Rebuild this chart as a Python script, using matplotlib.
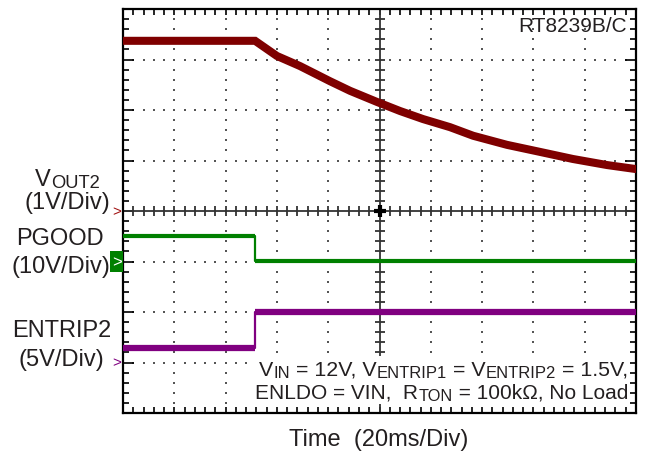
import numpy as np
import matplotlib.pyplot as plt
import matplotlib.transforms as mtransforms
from matplotlib.patches import Rectangle

plt.rcParams['font.family'] = ['Liberation Sans', 'DejaVu Sans']

#%% data read off the scope shot (time in ms, 20ms/Div)
vout_t = [0, 51.5, 60, 69, 80.7, 88.5, 99, 108, 117, 127.5, 136.5, 149.7, 162.6, 175.4, 188.7, 200]
vout_v = [3.37, 3.37, 3.07, 2.87, 2.57, 2.38, 2.16, 1.98, 1.82, 1.66, 1.49, 1.31, 1.17, 1.03, 0.91, 0.83]

pgood_t = [0, 51.3, 51.3, 200]
pgood_v = [5.0, 5.0, 0.1, 0.1]

entrip_t = [0, 51.3, 51.3, 200]
entrip_v = [1.4, 1.4, 5.0, 5.0]

# channel settings: V/Div and ground position (div)
ch_scale = {'vout': 1, 'pgood': 10, 'entrip': 5}
ch_ground = {'vout': 0, 'pgood': -1, 'entrip': -3}
ch_color = {'vout': '#7f0000', 'pgood': '#008000', 'entrip': '#800080'}

TXT = '#231f20'


def to_div(v, ch):
    return ch_ground[ch] + np.asarray(v) / ch_scale[ch]


#%%
fig = plt.figure(figsize=(6.48, 4.6), dpi=100)
W, H = 648, 460
ax = fig.add_axes([123 / W, 1 - 414 / H, 513 / W, 404 / H])
ax.set_xlim(0, 200)
ax.set_ylim(-4, 4)

# dotted graticule
xmaj = [x for x in np.arange(20, 200, 20) if x != 100]
ymaj = [-3, -2, -1, 1, 2, 3]
xmin = np.arange(0, 200.01, 4)
ymin = np.arange(-4, 4.001, 0.2)
gx, gy = np.meshgrid(xmaj, ymin)
ax.scatter(gx.ravel(), gy.ravel(), s=1.6, marker='s', color='#555555', lw=0, zorder=1)
gx, gy = np.meshgrid(xmin[1:-1], ymaj)
ax.scatter(gx.ravel(), gy.ravel(), s=1.6, marker='s', color='#555555', lw=0, zorder=1)

# center cross with ticks
ax.axhline(0, color='#333333', lw=1.3, zorder=2)
ax.axvline(100, color='#333333', lw=1.3, zorder=2)
ax.plot(xmin, np.zeros_like(xmin), ls='', marker='|', ms=7, mew=1.3, color='#333333', zorder=2)
ax.plot(np.full_like(ymin, 100), ymin, ls='', marker='_', ms=7, mew=1.3, color='#333333', zorder=2)
ax.plot([100], [0], marker='+', ms=9, mew=3, color='black', zorder=2)

# border ticks
ax.set_xticks(np.arange(0, 201, 20))
ax.set_xticks(xmin, minor=True)
ax.set_yticks(np.arange(-4, 5, 1))
ax.set_yticks(ymin, minor=True)
ax.tick_params(which='both', direction='in', top=True, right=True,
               labelbottom=False, labelleft=False, color='black', width=1.2)
ax.tick_params(axis='x', which='both', length=4)
ax.tick_params(axis='y', which='major', length=8)
ax.tick_params(axis='y', which='minor', length=4)
for s in ax.spines.values():
    s.set_linewidth(1.6)

# traces
ax.plot(vout_t, to_div(vout_v, 'vout'), color=ch_color['vout'], lw=5.8,
        solid_joinstyle='miter', zorder=4)
# thin edge for the step, thick for the flat parts
ax.plot(pgood_t, to_div(pgood_v, 'pgood'), color=ch_color['pgood'], lw=1.6, zorder=4)
ax.plot(pgood_t[:2], to_div(pgood_v[:2], 'pgood'), color=ch_color['pgood'], lw=3,
        solid_capstyle='butt', zorder=4)
ax.plot(pgood_t[2:], to_div(pgood_v[2:], 'pgood'), color=ch_color['pgood'], lw=3,
        solid_capstyle='butt', zorder=4)
ax.plot(entrip_t, to_div(entrip_v, 'entrip'), color=ch_color['entrip'], lw=1.6, zorder=4)
ax.plot(entrip_t[:2], to_div(entrip_v[:2], 'entrip'), color=ch_color['entrip'], lw=4.5,
        solid_capstyle='butt', zorder=4)
ax.plot(entrip_t[2:], to_div(entrip_v[2:], 'entrip'), color=ch_color['entrip'], lw=4.5,
        solid_capstyle='butt', zorder=4)

# ground markers on the left edge
trans = mtransforms.blended_transform_factory(ax.transAxes, ax.transData)
ax.text(-0.012, ch_ground['vout'], '>', transform=trans, color='#a01010', fontsize=11,
        ha='center', va='center', clip_on=False)
ax.add_patch(Rectangle((-0.0245, ch_ground['pgood'] - 0.21), 0.0245, 0.42, transform=trans,
                       fc=ch_color['pgood'], ec='none', clip_on=False, zorder=5))
ax.text(-0.0125, ch_ground['pgood'], '>', transform=trans, color='white', fontsize=12,
        ha='center', va='center', clip_on=False, zorder=6)
ax.text(-0.012, ch_ground['entrip'], '>', transform=trans, color=ch_color['entrip'], fontsize=11,
        ha='center', va='center', clip_on=False)

renderer = fig.canvas.get_renderer()
PX = mtransforms.IdentityTransform()


def ftext(x, y, s, **kw):
    return fig.text(x / W, 1 - y / H, s, color=TXT, **kw)


def rich(x, y_base, pieces, size, ha='right', sub_scale=0.78, drop=2.5, zorder=3):
    """pieces: list of (text, is_subscript); x = anchor (px), y_base = baseline (px from top)"""
    texts = []
    x0 = 0.0
    for s, sub in pieces:
        t = fig.text(x0, H - y_base - (drop if sub else 0), s, transform=PX,
                     fontsize=size * (sub_scale if sub else 1), color=TXT,
                     ha='left', va='baseline', zorder=zorder)
        x0 += t.get_window_extent(renderer).width
        texts.append(t)
    shift = x - x0 if ha == 'right' else x - x0 / 2
    for t in texts:
        px, py = t.get_position()
        t.set_position((px + shift, py))


# channel labels
rich(67.5, 186, [('V', False), ('OUT2', True)], 17, ha='center')
ftext(67.5, 203, '(1V/Div)', fontsize=17, ha='center', va='center')
ftext(60, 239, 'PGOOD', fontsize=17, ha='center', va='center')
ftext(61, 267, '(10V/Div)', fontsize=17, ha='center', va='center')
ftext(61.5, 331, 'ENTRIP2', fontsize=17, ha='center', va='center')
ftext(61.5, 360, '(5V/Div)', fontsize=17, ha='center', va='center')

ftext(379, 440, 'Time  (20ms/Div)', fontsize=17, ha='center', va='center')
ftext(627, 27, 'RT8239B/C', fontsize=15, ha='right', va='center')

# conditions box
fig.patches.append(Rectangle((255 / W, 1 - 405 / H), 375 / W, 48 / H,
                             transform=fig.transFigure, fc='white', ec='none', zorder=1))
rich(628, 376, [('V', False), ('IN', True), (' = 12V, V', False), ('ENTRIP1', True),
                (' = V', False), ('ENTRIP2', True), (' = 1.5V,', False)], 15.4)
rich(628, 399, [('ENLDO = VIN,  R', False), ('TON', True), (' = 100k\u03a9, No Load', False)], 15)

fig.savefig('out.png', dpi=100)
